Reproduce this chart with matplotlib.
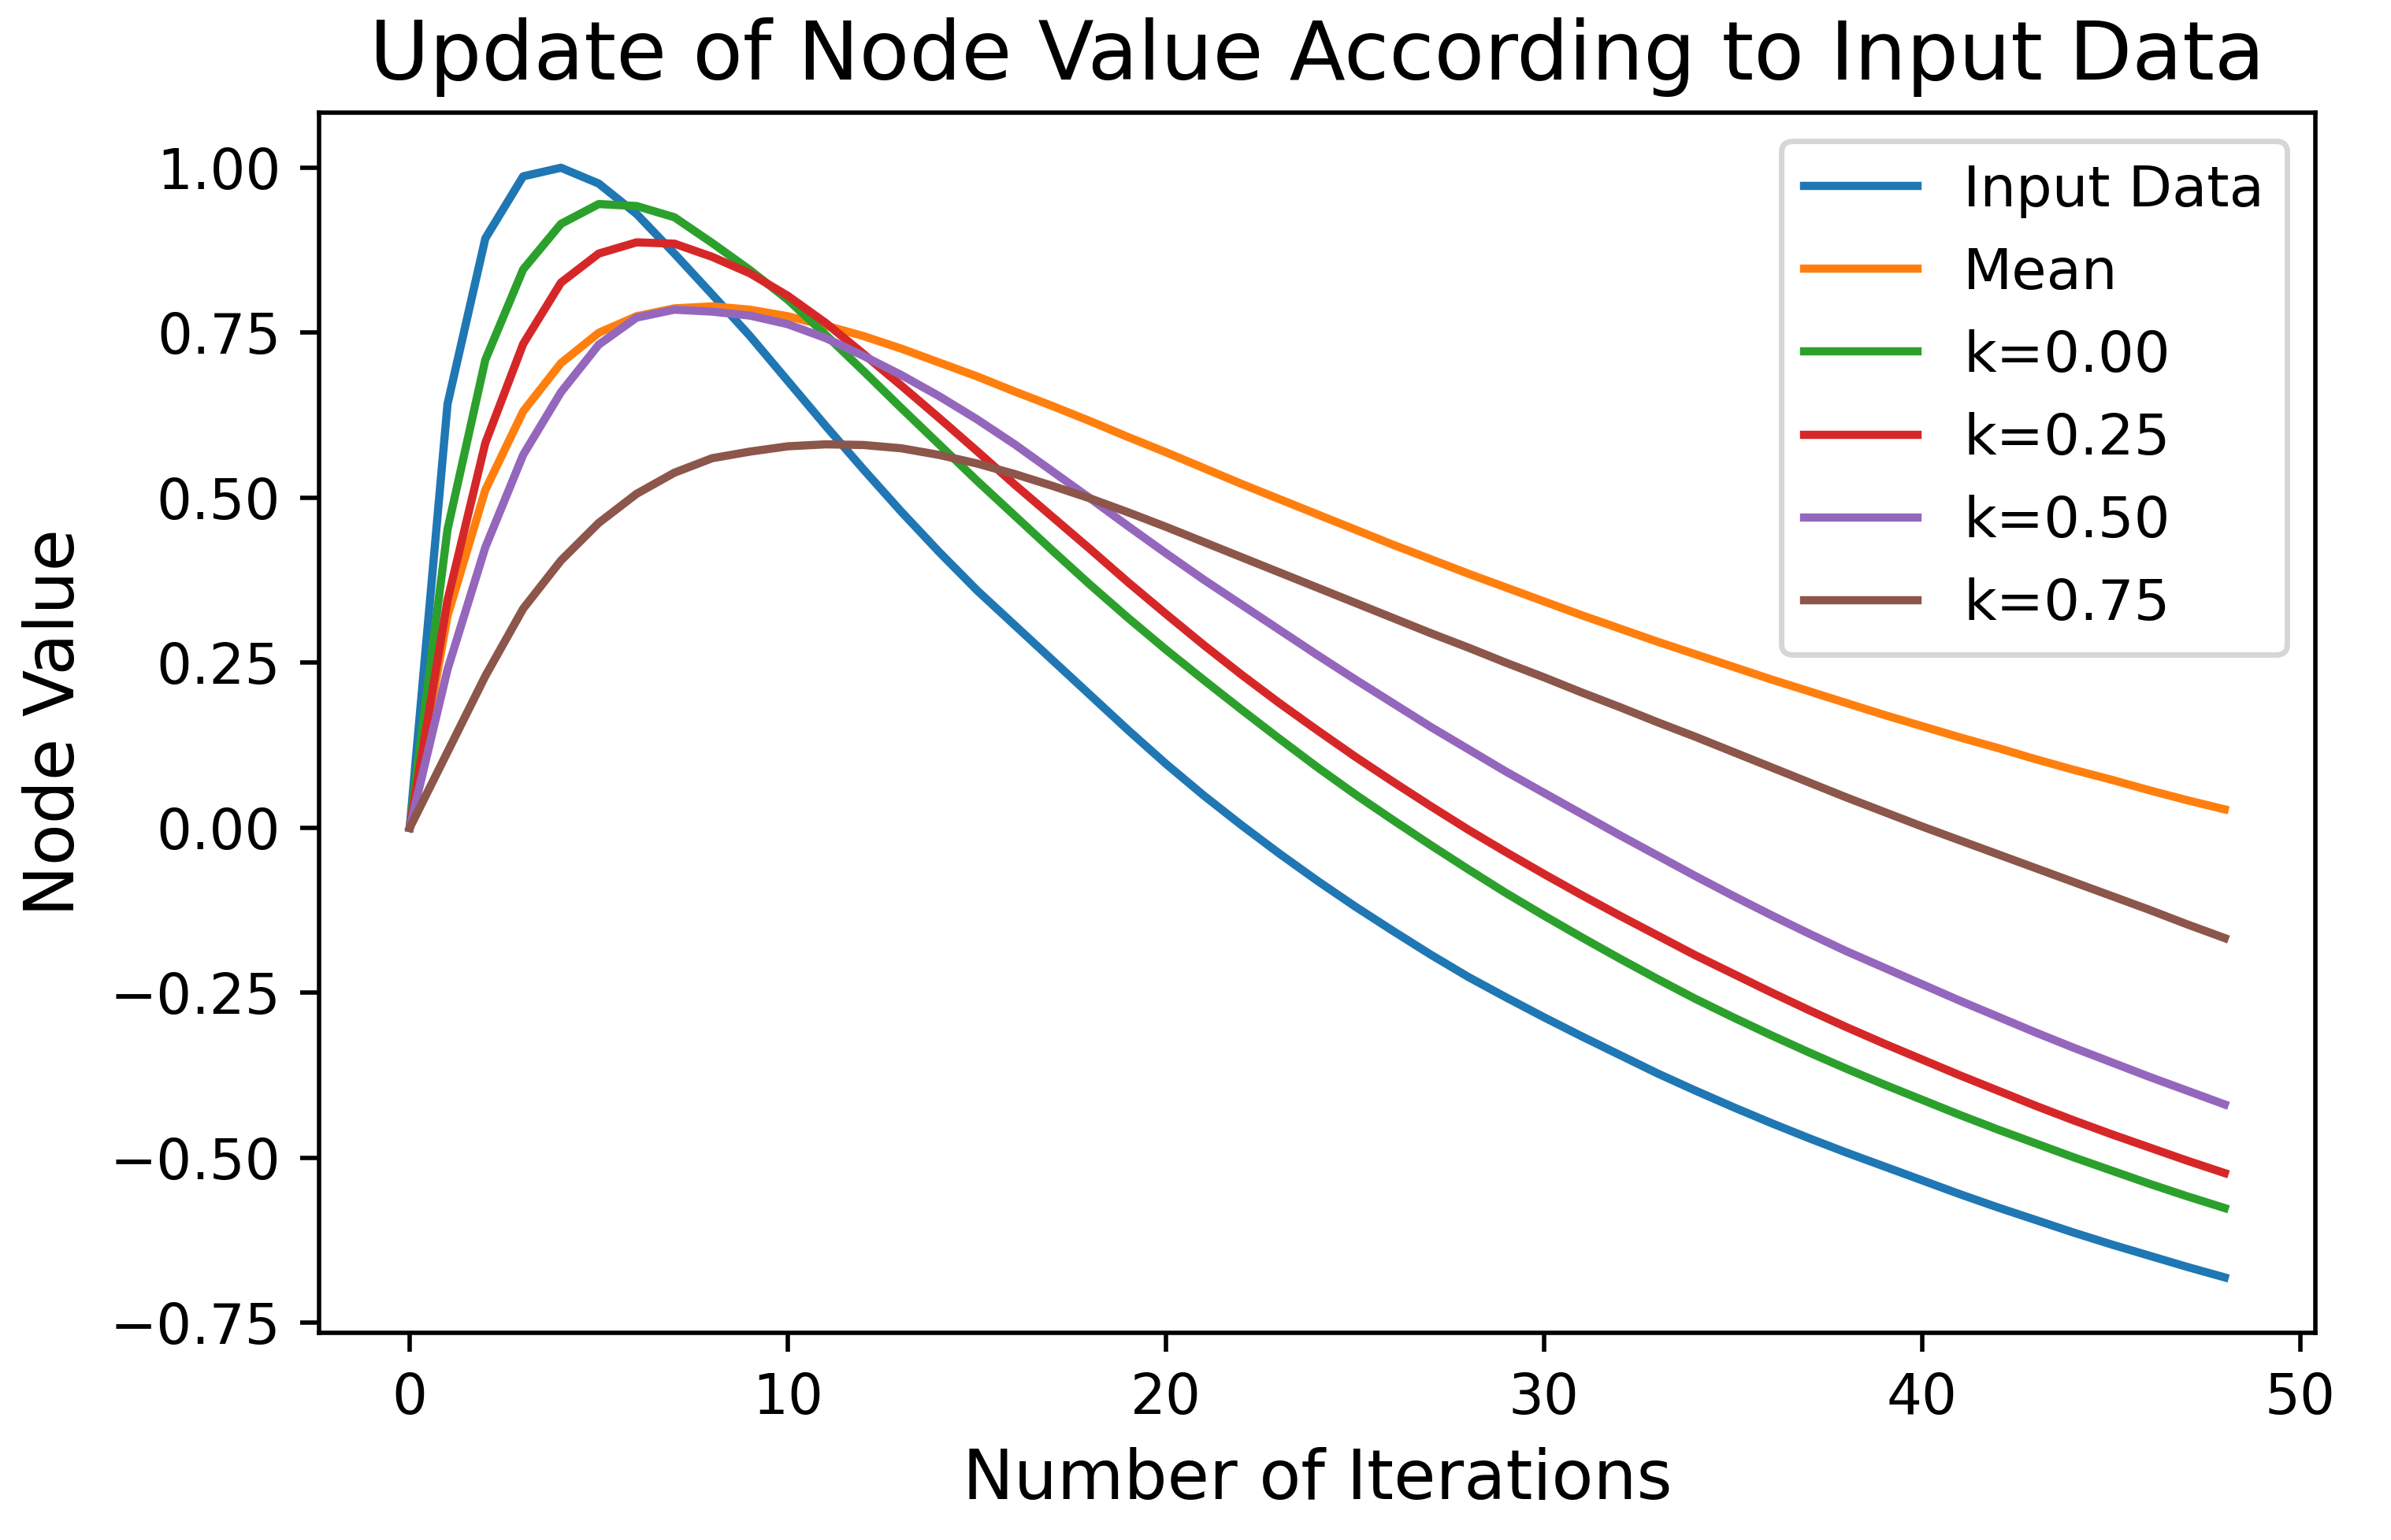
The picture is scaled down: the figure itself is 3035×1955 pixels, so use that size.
import matplotlib
matplotlib.use('Agg')
import matplotlib.pyplot as plt

iterations = list(range(49))

input_data = [0.000, 0.642, 0.893, 0.987, 1.000, 0.976, 0.930, 0.870, 0.808, 0.745,
              0.677, 0.609, 0.543, 0.479, 0.418, 0.360, 0.307, 0.254, 0.201, 0.148,
              0.097, 0.049, 0.004, -0.039, -0.080, -0.119, -0.156, -0.192, -0.226, -0.257,
              -0.287, -0.316, -0.344, -0.372, -0.398, -0.423, -0.447, -0.470, -0.492, -0.513,
              -0.534, -0.555, -0.575, -0.594, -0.613, -0.631, -0.648, -0.665, -0.681]

mean_vals = [0.000, 0.321, 0.512, 0.631, 0.704, 0.750, 0.775, 0.787, 0.790, 0.785,
             0.775, 0.761, 0.745, 0.726, 0.705, 0.684, 0.661, 0.639, 0.616, 0.592,
             0.569, 0.545, 0.521, 0.498, 0.475, 0.452, 0.429, 0.407, 0.385, 0.364,
             0.343, 0.322, 0.302, 0.282, 0.263, 0.244, 0.225, 0.207, 0.189, 0.171,
             0.154, 0.137, 0.121, 0.104, 0.088, 0.073, 0.057, 0.042, 0.028]

k_000 = [0.000, 0.452, 0.709, 0.846, 0.915, 0.945, 0.942, 0.925, 0.886, 0.845,
         0.800, 0.747, 0.692, 0.636, 0.581, 0.526, 0.473, 0.420, 0.368, 0.318,
         0.270, 0.224, 0.179, 0.135, 0.092, 0.051, 0.012, -0.026, -0.063, -0.099,
         -0.133, -0.166, -0.198, -0.229, -0.259, -0.287, -0.314, -0.340, -0.365, -0.389,
         -0.412, -0.435, -0.457, -0.478, -0.499, -0.519, -0.539, -0.558, -0.576]

k_025 = [0.000, 0.345, 0.583, 0.733, 0.826, 0.870, 0.887, 0.885, 0.865, 0.840,
         0.806, 0.765, 0.718, 0.670, 0.621, 0.571, 0.520, 0.471, 0.422, 0.372,
         0.324, 0.277, 0.232, 0.189, 0.148, 0.108, 0.070, 0.033, -0.003, -0.037,
         -0.070, -0.102, -0.133, -0.163, -0.193, -0.221, -0.249, -0.276, -0.302, -0.327,
         -0.351, -0.375, -0.398, -0.421, -0.443, -0.464, -0.484, -0.504, -0.523]

k_050 = [0.000, 0.240, 0.425, 0.565, 0.660, 0.732, 0.773, 0.785, 0.782, 0.776,
         0.763, 0.742, 0.715, 0.686, 0.654, 0.619, 0.581, 0.540, 0.499, 0.457,
         0.416, 0.376, 0.338, 0.300, 0.262, 0.225, 0.189, 0.153, 0.119, 0.085,
         0.053, 0.021, -0.011, -0.042, -0.073, -0.103, -0.132, -0.160, -0.187, -0.212,
         -0.237, -0.262, -0.286, -0.310, -0.333, -0.355, -0.377, -0.398, -0.419]

k_075 = [0.000, 0.115, 0.230, 0.332, 0.405, 0.462, 0.506, 0.538, 0.560, 0.570,
         0.578, 0.581, 0.580, 0.575, 0.565, 0.552, 0.536, 0.518, 0.499, 0.478,
         0.456, 0.433, 0.410, 0.387, 0.364, 0.341, 0.318, 0.295, 0.273, 0.250,
         0.228, 0.205, 0.183, 0.160, 0.138, 0.115, 0.092, 0.069, 0.046, 0.024,
         0.002, -0.019, -0.040, -0.061, -0.082, -0.103, -0.124, -0.146, -0.167]

series = [input_data, mean_vals, k_000, k_025, k_050, k_075]
labels = ['Input Data', 'Mean', 'k=0.00', 'k=0.25', 'k=0.50', 'k=0.75']

fig, ax = plt.subplots(figsize=(6.07, 3.91), dpi=500)
fig.subplots_adjust(left=0.1334, right=0.9684, top=0.9271, bottom=0.1345)

for vals, lab in zip(series, labels):
    ax.plot(iterations, vals, label=lab, linewidth=1.5)

ax.set_title('Update of Node Value According to Input Data', fontsize=15)
ax.set_xlabel('Number of Iterations', fontsize=12.5)
ax.set_ylabel('Node Value', fontsize=12.5)
ax.tick_params(labelsize=10.2)
ax.legend(loc='upper right', fontsize=10.4)

fig.savefig('out.png', dpi=500)
